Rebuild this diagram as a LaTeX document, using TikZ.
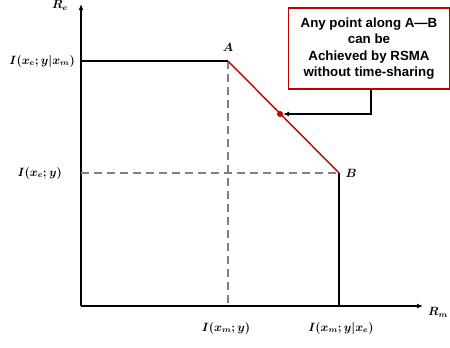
\documentclass[tikz,border=0pt]{standalone}
\usepackage{amsmath,bm}
\usepackage{fontspec}
\newfontfamily\boxfont{Liberation Sans}
\usetikzlibrary{arrows.meta}
\definecolor{dred}{HTML}{C00000}
\begin{document}
\begin{tikzpicture}[x=1pt,y=-1pt,
  axis/.style={line width=1.6pt,-{Latex[length=6pt,width=5pt]}},
  solid line/.style={line width=1.6pt},
  dash line/.style={line width=1.3pt,gray,dash pattern=on 8pt off 5pt},
  lab/.style={font=\boldmath\fontsize{12}{14}\selectfont, inner sep=0pt},
  calloutbox/.style={draw=dred,line width=1.2pt,fill=white,align=center,
    font=\boxfont\bfseries\fontsize{13.3}{16.5}\selectfont,inner sep=0pt,
    minimum width=161pt,minimum height=81pt}]
\useasboundingbox (0,0) rectangle (450,348);
\coordinate (O) at (81,306);
\coordinate (ytop) at (81,4);
\coordinate (xend) at (423,306);
\coordinate (ya) at (81,61);
\coordinate (yb) at (81,173);
\coordinate (A) at (228,61);
\coordinate (B) at (339,173);
\coordinate (Ax) at (228,306);
\coordinate (Bx) at (339,306);
\coordinate (dot) at (280,114);
\coordinate (bend) at (371,114);
% axes
\draw[axis] (O) -- (ytop);
\draw[axis] (O) -- (xend);
% dashed guides
\draw[dash line] (yb) -- (B);
\draw[dash line] (A) -- (Ax);
% region boundary
\draw[solid line] (ya) -- (A);
\draw[solid line] (B) -- (Bx);
\draw[dred,line width=1.4pt] (A) -- (B);
\fill[dred] (dot) circle (3pt);
% callout
\node[calloutbox] (box) at (369,48.5) {Any point along A—B\\can be\\Achieved by RSMA\\without time-sharing};
\draw[line width=1.2pt,-{Latex[length=6pt,width=5pt]}] (box.south -| bend) -- (bend) -- ([xshift=3pt]dot);
% labels
\node[lab] (Re) at (60,5) {$\bm{R_e}$};
\node[lab] (Rm) at (438,312) {$\bm{R_m}$};
\node[lab,anchor=east] (l1) at (75,61) {$\bm{I(x_e;y|x_m)}$};
\node[lab,anchor=east] (l2) at (62,173) {$\bm{I(x_e;y)}$};
\node[lab] (la) at (228,47) {$\bm{A}$};
\node[lab] (lb) at (351,173) {$\bm{B}$};
\node[lab] (l3) at (226,328) {$\bm{I(x_m;y)}$};
\node[lab] (l4) at (341,328) {$\bm{I(x_m;y|x_e)}$};
\end{tikzpicture}
\end{document}
